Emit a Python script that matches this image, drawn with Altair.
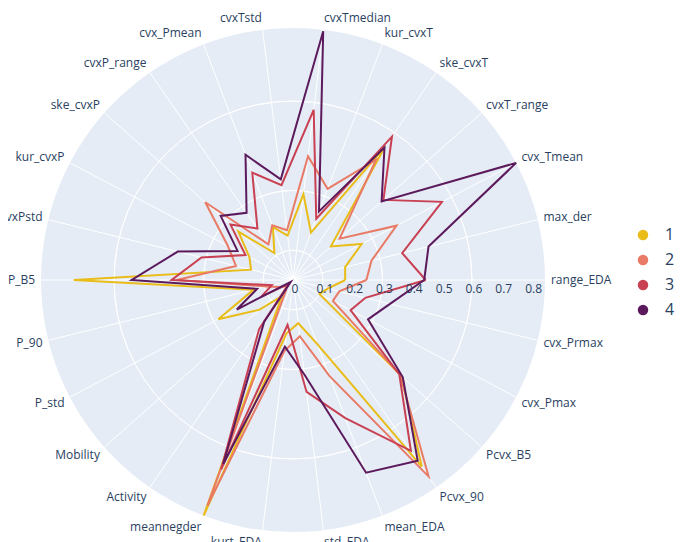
import math
import altair as alt
import pandas as pd

categories = ["range_EDA", "max_der", "cvx_Tmean", "cvxT_range", "ske_cvxT", "kur_cvxT",
              "cvxTmedian", "cvxTstd", "cvx_Pmean", "cvxP_range", "ske_cvxP", "kur_cvxP",
              "cvxPstd", "P_B5", "P_90", "P_std", "Mobility", "Activity", "meannegder",
              "kurt_EDA", "std_EDA", "mean_EDA", "Pcvx_90", "Pcvx_B5", "cvx_Pmax", "cvx_Prmax"]

series_names = ["1", "2", "3", "4"]

s1 = [0.175, 0.18, 0.26, 0.17, 0.54, 0.17, 0.29, 0.15, 0.19, 0.11, 0.245, 0.165, 0.145,
      0.735, 0.137, 0.283, 0.15, 0.066, 0.845, 0.18, 0.146, 0.23, 0.76, 0.485, 0.10, 0.12]
s2 = [0.246, 0.271, 0.392, 0.209, 0.49, 0.327, 0.418, 0.168, 0.196, 0.145, 0.393, 0.247, 0.197,
      0.39, 0.09, 0.05, 0.03, 0.04, 0.81, 0.24, 0.19, 0.344, 0.80, 0.48, 0.151, 0.16]
s3 = [0.445, 0.377, 0.564, 0.405, 0.584, 0.22, 0.575, 0.32, 0.385, 0.21, 0.28, 0.18, 0.316,
      0.407, 0.073, 0.12, 0.02, 0.20, 0.68, 0.152, 0.378, 0.495, 0.696, 0.476, 0.218, 0.25]
s4 = [0.44, 0.468, 0.845, 0.397, 0.54, 0.246, 0.84, 0.34, 0.449, 0.274, 0.324, 0.21, 0.398,
      0.541, 0.124, 0.213, 0.01, 0.17, 0.66, 0.225, 0.32, 0.691, 0.736, 0.492, 0.284, 0.335]

radial_ticks = [0, 0.1, 0.2, 0.3, 0.4, 0.5, 0.6, 0.7, 0.8]

colors = ["#E9BC17", "#E87A66", "#C84052", "#5C1A5C"]

all_series = [s1, s2, s3, s4]
R_MAX = max(max(s) for s in all_series)
N = len(categories)
FONT = "Open Sans"
TXT = "#2a3f5f"

rows = []
for name, vals in zip(series_names, all_series):
    for i, v in enumerate(vals + [vals[0]]):
        rows.append({"series": name, "idx": i, "value": v})
lines_df = pd.DataFrame(rows)
cat_df = pd.DataFrame({"category": categories, "idx": list(range(N))})
tick_df = pd.DataFrame({"r": radial_ticks})
disc_df = pd.DataFrame({"r": [R_MAX]})
grid_df = pd.DataFrame({"r": radial_ticks[1:]})
legend_df = pd.DataFrame({"series": series_names, "value": [0.0] * 4})

xs = alt.Scale(domain=[-R_MAX, R_MAX], nice=False, zero=False)
ys = alt.Scale(domain=[-R_MAX, R_MAX], nice=False, zero=False)
rs = alt.Scale(type="linear", domain=[0, R_MAX], zero=True, nice=False)
theta_expr = f"datum.idx * 2 * PI / {N}"

# legend driver (drawn first, hidden under the polar disc)
legend_layer = alt.Chart(legend_df).mark_circle(size=4).encode(
    x=alt.X("value:Q", scale=xs, axis=None),
    y=alt.Y("value:Q", scale=ys, axis=None),
    fill=alt.Fill("series:N", scale=alt.Scale(domain=series_names, range=colors),
                  legend=alt.Legend(title=None, orient="none", legendX=594, legendY=199,
                                    symbolType="circle", symbolSize=110, symbolOpacity=1,
                                    symbolStrokeWidth=0, labelFontSize=16, labelFont=FONT,
                                    labelColor=TXT, rowPadding=9, labelOffset=14, padding=0))
)

disc = alt.Chart(disc_df).mark_arc(color="#E5ECF6", theta=0, theta2=2 * math.pi).encode(
    radius=alt.Radius("r:Q", scale=rs)
)

grid = alt.Chart(grid_df).mark_arc(filled=False, stroke="white", strokeWidth=1,
                                   theta=0, theta2=2 * math.pi).encode(
    radius=alt.Radius("r:Q", scale=rs)
)

spokes = alt.Chart(cat_df).transform_calculate(
    th=theta_expr, x0="0", y0="0",
    x1=f"{R_MAX} * cos(datum.th)", y1=f"{R_MAX} * sin(datum.th)"
).mark_rule(color="white", strokeWidth=1).encode(
    x=alt.X("x0:Q", scale=xs, axis=None),
    y=alt.Y("y0:Q", scale=ys, axis=None),
    x2="x1:Q", y2="y1:Q"
)

lines = alt.Chart(lines_df).transform_calculate(
    th=theta_expr,
    px="datum.value * cos(datum.th)",
    py="datum.value * sin(datum.th)"
).mark_line(strokeWidth=2).encode(
    x=alt.X("px:Q", scale=xs, axis=None),
    y=alt.Y("py:Q", scale=ys, axis=None),
    stroke=alt.Stroke("series:N", scale=alt.Scale(domain=series_names, range=colors), legend=None),
    detail="series:N",
    order="idx:Q"
)

rticks = alt.Chart(tick_df).transform_calculate(y0="0").mark_text(
    font=FONT, fontSize=12, color=TXT, dy=9, dx=2, baseline="middle", align="center"
).encode(
    x=alt.X("r:Q", scale=xs, axis=None),
    y=alt.Y("y0:Q", scale=ys, axis=None),
    text=alt.Text("r:Q", format=".1~f")
)

lab_base = alt.Chart(cat_df).transform_calculate(
    th=theta_expr,
    c="cos(datum.th)", s="sin(datum.th)",
    lx=f"cos(datum.th) * ({R_MAX} + 0.02)",
    ly=f"sin(datum.th) * ({R_MAX} + 0.04)"
)
lab_right = lab_base.transform_filter("datum.c > 0").mark_text(
    font=FONT, fontSize=12, color=TXT, align="left", baseline="middle"
).encode(
    x=alt.X("lx:Q", scale=xs, axis=None),
    y=alt.Y("ly:Q", scale=ys, axis=None),
    text="category:N"
)
lab_left = lab_base.transform_filter("datum.c <= 0").mark_text(
    font=FONT, fontSize=12, color=TXT, align="right", baseline="middle"
).encode(
    x=alt.X("lx:Q", scale=xs, axis=None),
    y=alt.Y("ly:Q", scale=ys, axis=None),
    text="category:N"
)

chart = alt.layer(legend_layer, disc, grid, spokes, lines, rticks, lab_right, lab_left).properties(
    width=504, height=504,
    padding={"left": 33, "top": 20, "right": 130, "bottom": 10},
    autosize=alt.AutoSizeParams(type="none"),
    background="white"
).configure_view(stroke=None)

chart.save("out.html", embed_options={"renderer": "svg", "actions": False})
